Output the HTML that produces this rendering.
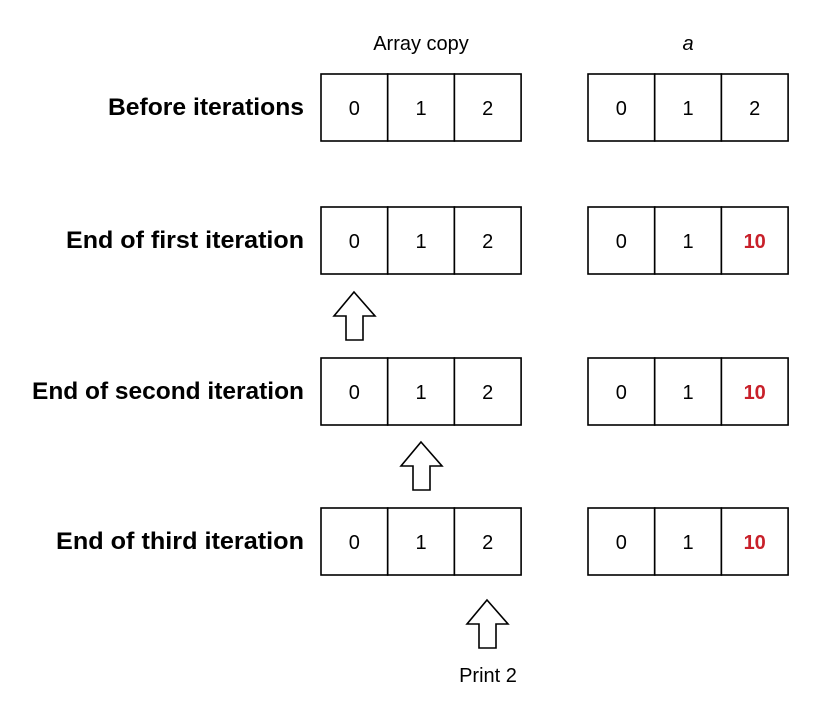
<!DOCTYPE html>
<html><head><meta charset="utf-8"><style>
body{margin:0;background:#fff;width:815px;height:701px;overflow:hidden}
svg{display:block}
</style></head><body>
<svg width="815" height="701" xmlns="http://www.w3.org/2000/svg">
<text x="421" y="50" font-family="Liberation Sans, sans-serif" font-size="20" text-anchor="middle">Array copy</text>
<text x="688" y="50" font-family="Liberation Sans, sans-serif" font-size="20" font-style="italic" text-anchor="middle">a</text>
<g id="rows"></g>
<g fill="#fff" stroke="#000" stroke-width="1.6">
<path d="M354,292 L375,316 L363,316 L363,340 L346,340 L346,316 L334,316 Z"/>
<path d="M421,442 L442,466 L430,466 L430,490 L413,490 L413,466 L401,466 Z"/>
<path d="M487,600 L508,624 L496,624 L496,648 L479,648 L479,624 L467,624 Z"/>
</g>
<text x="488" y="682" font-family="Liberation Sans, sans-serif" font-size="20" text-anchor="middle">Print 2</text>
</svg>
<script>
const labels=["Before iterations","End of first iteration","End of second iteration","End of third iteration"];
const labelWidths=[196,238,272,248];
const copyVals=[[0,1,2],[0,1,2],[0,1,2],[0,1,2]];
const aVals=[[0,1,2],[0,1,10],[0,1,10],[0,1,10]];
const rowTops=[74,207,358,508];
const g=document.getElementById('rows');
const NS="http://www.w3.org/2000/svg";
function mk(t,a){const e=document.createElementNS(NS,t);for(const k in a)e.setAttribute(k,a[k]);return e;}
labels.forEach((lab,i)=>{
  const y=rowTops[i];
  const t=mk('text',{x:304,y:y+41,'font-family':'Liberation Sans, sans-serif','font-size':24,'font-weight':'bold','text-anchor':'end',textLength:labelWidths[i],lengthAdjust:'spacingAndGlyphs'});
  t.textContent=lab;
  
  
  g.appendChild(t);
  [[321,copyVals[i],'copy'],[588,aVals[i],'a']].forEach(([x0,vals,nm])=>{
    vals.forEach((v,j)=>{
      const r=mk('rect',{x:x0+j*66.7,y:y,width:66.7,height:67,fill:'#fff',stroke:'#000','stroke-width':1.6});
      
      
      g.appendChild(r);
      const changed=(v!==copyVals[0][j]);
      const tx=mk('text',{x:x0+j*66.7+33.3,y:y+41,'font-family':'Liberation Sans, sans-serif','font-size':20,'text-anchor':'middle',fill:changed?'#c8202a':'#000','font-weight':changed?'bold':'normal'});
      tx.textContent=v;
      
      
      g.appendChild(tx);
    });
  });
});
</script>
</body></html>
